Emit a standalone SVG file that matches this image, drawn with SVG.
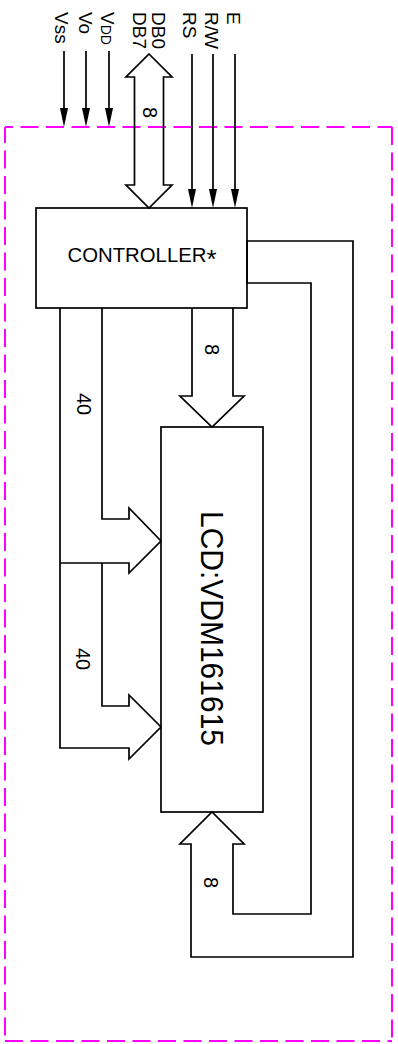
<svg xmlns="http://www.w3.org/2000/svg" width="398" height="1044" viewBox="0 0 398 1044">
<style>
.ln{fill:none;stroke:#000;stroke-width:1.7;stroke-linejoin:miter}
.box{fill:#fff;stroke:#000;stroke-width:1.7}
.bd{fill:none;stroke:#ff00ff;stroke-width:2;stroke-dasharray:18 7.5}
.t{font-family:"Liberation Sans",Arial,sans-serif;fill:#000}
.pin{font-size:19px}
.num{font-size:20px}
</style>
<defs>
<marker id="ah" markerUnits="userSpaceOnUse" viewBox="0 0 19 8" refX="0" refY="4" markerWidth="19" markerHeight="8" orient="auto">
<path d="M0,0 L19,4 L0,8 z" fill="#000"/>
</marker>
</defs>
<rect width="398" height="1044" fill="#fff"/>
<g id="border">
<path class="bd" d="M5,127 H392" stroke-dashoffset="10"/>
<path class="bd" d="M5,127 V1041" stroke-dashoffset="2"/>
<path class="bd" d="M392,127 V1041"/>
<path class="bd" d="M5,1041 H392"/>
</g>
<g id="controller">
<rect class="box" x="36" y="208" width="211" height="100"/>
<text class="t" x="142" y="262" font-size="20.5" text-anchor="middle" textLength="149" lengthAdjust="spacingAndGlyphs">CONTROLLER<tspan font-size="26" dy="6">*</tspan></text>
</g>
<g id="lcd">
<rect class="box" x="161" y="427" width="102" height="385"/>
<text class="t" transform="translate(201,511) rotate(90)" font-size="31.5" textLength="235" lengthAdjust="spacingAndGlyphs">LCD:VDM161615</text>
</g>
<g id="pins">
<text class="t pin" transform="translate(55,12) rotate(90)">Vss</text>
<text class="t pin" transform="translate(79,12) rotate(90)">Vo</text>
<text class="t pin" transform="translate(101,12) rotate(90)">V<tspan font-size="14">DD</tspan></text>
<text class="t pin" transform="translate(133,12) rotate(90)">DB7</text>
<text class="t pin" transform="translate(152,12) rotate(90)">DB0</text>
<text class="t pin" transform="translate(183,12) rotate(90)">RS</text>
<text class="t pin" transform="translate(205,12) rotate(90)">R/W</text>
<text class="t pin" transform="translate(227,12) rotate(90)">E</text>
</g>
<g id="connectors">
<line class="ln" x1="64" y1="51" x2="64" y2="108" marker-end="url(#ah)"/>
<line class="ln" x1="86" y1="51" x2="86" y2="108" marker-end="url(#ah)"/>
<line class="ln" x1="109" y1="51" x2="109" y2="108" marker-end="url(#ah)"/>
<line class="ln" x1="192" y1="54" x2="192" y2="189" marker-end="url(#ah)"/>
<line class="ln" x1="213" y1="54" x2="213" y2="189" marker-end="url(#ah)"/>
<line class="ln" x1="235" y1="54" x2="235" y2="189" marker-end="url(#ah)"/>
<polygon class="ln" points="149,54 172,77 163.5,77 163.5,185 172,185 149,208 126,185 134.5,185 134.5,77 126,77"/>
<polyline class="ln" points="192,308 192,396 180,396 212,427 244,396 233,396 233,308"/>
<polygon class="ln" points="247,241 353,241 353,957 191,957 191,844 180,844 212,812 244,844 233,844 233,914 311,914 311,283 247,283"/>
<polyline class="ln" points="102,308 102,519 129,519 129,508 161,541 129,573 129,563 60,563"/>
<polyline class="ln" points="60,308 60,748 129,748 129,759 161,727 129,695 129,706 102,706 102,563"/>
<text class="t num" transform="translate(143,107) rotate(90)">8</text>
<text class="t num" transform="translate(205,344) rotate(90)">8</text>
<text class="t num" transform="translate(204,877) rotate(90)">8</text>
<text class="t num" transform="translate(77,393) rotate(90)">40</text>
<text class="t num" transform="translate(76,648) rotate(90)">40</text>
</g>
</svg>
